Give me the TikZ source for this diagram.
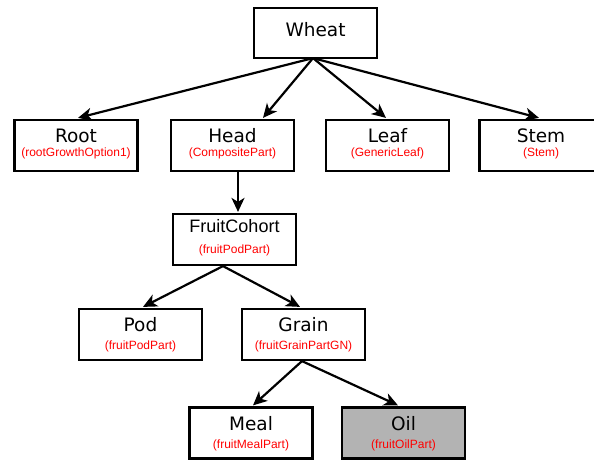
\documentclass[tikz,border=0pt]{standalone}
\usepackage{fontspec}
\setmainfont{DejaVu Sans}
\newfontfamily\subfont{Liberation Sans}
\usetikzlibrary{arrows.meta}
\begin{document}
\begin{tikzpicture}[x=1pt,y=-1pt,
  box/.style={draw,line width=2.2pt,minimum width=123pt,minimum height=51pt,inner sep=0pt},
  lbl/.style={anchor=base,inner sep=0pt,font=\fontsize{18.5}{20}\selectfont},
  lbla/.style={anchor=base,inner sep=0pt,font=\subfont\fontsize{18}{20}\selectfont},
  sub/.style={anchor=base,inner sep=0pt,text=red,font=\subfont\fontsize{12}{13}\selectfont},
  arr/.style={line width=2.2pt,-{Stealth[length=14pt,width=13pt,inset=4pt]}}]
\useasboundingbox (0,0) rectangle (594,462);
\clip (0,0) rectangle (594,462);
\fill[white] (0,0) rectangle (594,462);
% boxes
\node[box,minimum height=50pt] (wheat) at (315.5,33) {};
\node[box] (root) at (76,145.5) {};
\node[box] (head) at (232.5,145.5) {};
\node[box] (leaf) at (387.5,145.5) {};
\node[box] (stem) at (541,145.5) {};
\node[box] (fc) at (234.5,239.5) {};
\node[box] (pod) at (140.5,334.5) {};
\node[box] (grain) at (303.5,334.5) {};
\node[box] (meal) at (251,433) {};
\node[box,fill={rgb,255:red,179;green,179;blue,179}] (oil) at (403.5,433) {};
% labels
\node[lbl] (wheatL) at (315.5,37) {Wheat};
\node[lbl] (rootL) at (76,143) {Root};
\node[sub] (rootS) at (76,157) {(rootGrowthOption1)};
\node[lbl] (headL) at (232.5,143) {Head};
\node[sub] (headS) at (232.5,157) {(CompositePart)};
\node[lbl] (leafL) at (387.5,143) {Leaf};
\node[sub] (leafS) at (387.5,157) {(GenericLeaf)};
\node[lbl] (stemL) at (541,143) {Stem};
\node[sub] (stemS) at (541,157) {(Stem)};
\node[lbla] (fcL) at (234.5,233) {FruitCohort};
\node[sub] (fcS) at (234.5,254) {(fruitPodPart)};
\node[lbl] (podL) at (140.5,331) {Pod};
\node[sub] (podS) at (140.5,349) {(fruitPodPart)};
\node[lbl] (grainL) at (303.5,331) {Grain};
\node[sub] (grainS) at (303.5,349) {(fruitGrainPartGN)};
\node[lbl] (mealL) at (251,430) {Meal};
\node[sub] (mealS) at (251,448) {(fruitMealPart)};
\node[lbl] (oilL) at (403.5,430) {Oil};
\node[sub] (oilS) at (403.5,448) {(fruitOilPart)};
% connectors
\draw[arr] ([xshift=-2.5pt,yshift=1pt]wheat.south) -- ([xshift=2pt,yshift=1pt]root.north);
\draw[arr] ([xshift=-2.5pt,yshift=1pt]wheat.south) -- ([xshift=30.5pt,yshift=1pt]head.north);
\draw[arr] ([xshift=-2.5pt,yshift=1pt]wheat.south) -- ([xshift=-1.5pt,yshift=1pt]leaf.north);
\draw[arr] ([xshift=-2.5pt,yshift=1pt]wheat.south) -- ([xshift=-2pt,yshift=1pt]stem.north);
\draw[arr] ([xshift=5.5pt]head.south) -- ([xshift=3.5pt,yshift=1pt]fc.north);
\draw[arr] ([xshift=-11.5pt]fc.south) -- ([xshift=2.5pt,yshift=1pt]pod.north);
\draw[arr] ([xshift=-11.5pt]fc.south) -- ([xshift=-3.5pt,yshift=1pt]grain.north);
\draw[arr] ([xshift=-1.5pt]grain.south) -- ([xshift=2pt,yshift=1pt]meal.north);
\draw[arr] ([xshift=-1.5pt]grain.south) -- ([xshift=-5.5pt,yshift=1pt]oil.north);
\end{tikzpicture}
\end{document}
